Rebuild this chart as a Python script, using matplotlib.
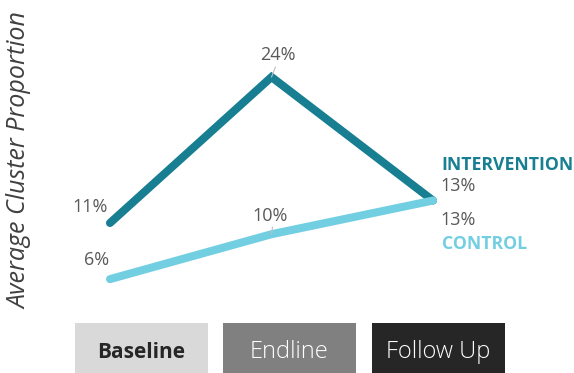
import matplotlib.pyplot as plt
from matplotlib.patches import Rectangle

plt.rcParams['font.family'] = ['Open Sans', 'DejaVu Sans']

periods = ["Baseline", "Endline", "Follow Up"]
intervention = [11, 24, 13]
control = [6, 10, 13]

teal = "#177f91"
light_blue = "#72cfe2"
label_grey = "#595959"

box_colors = ["#d9d9d9", "#808080", "#262626"]
box_text_colors = ["#262626", "white", "white"]
box_weights = ["bold", "light", "light"]

fig = plt.figure(figsize=(5.74, 3.73), dpi=100)
ax = fig.add_axes([0, 0, 1, 1])
ax.set_xlim(-0.681, 2.873)
ax.set_ylim(-2.36, 30.86)
ax.axis("off")

x = list(range(len(periods)))
ax.plot(x, intervention, color=teal, lw=5.8, solid_capstyle="round",
        solid_joinstyle="miter", zorder=2)
ax.plot(x, control, color=light_blue, lw=5.8, solid_capstyle="round",
        solid_joinstyle="miter", zorder=3)

# value labels (offsets in pixels)
int_offsets = [(-20, 16), (6, 22), (25, 15)]
ctl_offsets = [(-13, 19), (-1, 18), (25, -19)]
for xi, v, off in zip(x, intervention, int_offsets):
    ax.annotate(f"{v}%", (xi, v), xytext=off, textcoords="offset pixels",
                ha="center", va="center", fontsize=13, color=label_grey)
for xi, v, off in zip(x, control, ctl_offsets):
    ax.annotate(f"{v}%", (xi, v), xytext=off, textcoords="offset pixels",
                ha="center", va="center", fontsize=13, color=label_grey)

# small leader ticks at the middle points
ax.annotate("", (1, intervention[1]), xytext=(4, 10), textcoords="offset pixels",
            arrowprops=dict(arrowstyle="-", color="#bfbfbf", lw=0.8, shrinkA=0, shrinkB=0))
ax.annotate("", (1, control[1]), xytext=(1, 7), textcoords="offset pixels",
            arrowprops=dict(arrowstyle="-", color="#bfbfbf", lw=0.8, shrinkA=0, shrinkB=0),
            zorder=4)

# series names at the line ends
ax.annotate("INTERVENTION", (2, intervention[2]), xytext=(8, 36),
            textcoords="offset pixels", ha="left", va="center",
            fontsize=12.7, fontweight="bold", color=teal)
ax.annotate("CONTROL", (2, control[2]), xytext=(9, -43),
            textcoords="offset pixels", ha="left", va="center",
            fontsize=12.7, fontweight="bold", color=light_blue)

fig.text(20 / 574, 1 - 161 / 373, "Average Cluster Proportion", rotation=90,
         ha="center", va="center", fontsize=18, style="italic", color="#404040")

# period boxes along the bottom
box_left = [75, 223, 372]
for left, name, fc, tc, fw in zip(box_left, periods, box_colors,
                                  box_text_colors, box_weights):
    fig.add_artist(Rectangle((left / 574, 0), 133 / 574, 50 / 373,
                             transform=fig.transFigure, facecolor=fc,
                             edgecolor="none"))
    fig.text((left + 66.5) / 574, 1 - 352 / 373, name, ha="center",
             va="center", fontsize=17 if fw != "bold" else 15, color=tc,
             fontweight=fw)

fig.savefig("out.png", dpi=100)
